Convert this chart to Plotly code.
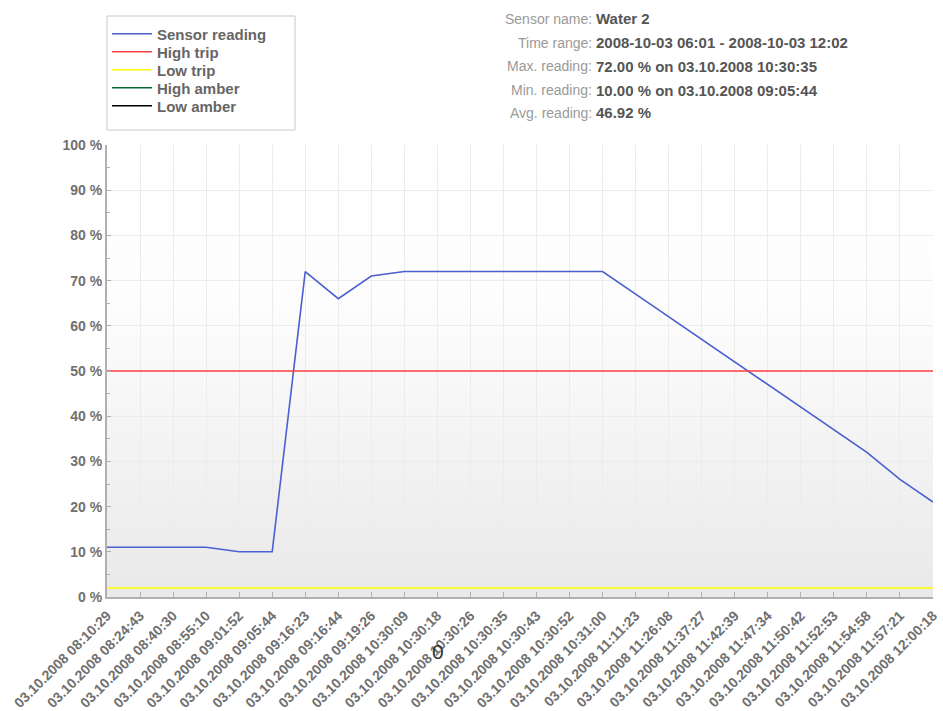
import base64
import plotly.graph_objects as go

# ---- data ----
time_labels = [
    "03.10.2008 08:10:29", "03.10.2008 08:24:43", "03.10.2008 08:40:30", "03.10.2008 08:55:10",
    "03.10.2008 09:01:52", "03.10.2008 09:05:44", "03.10.2008 09:16:23", "03.10.2008 09:16:44",
    "03.10.2008 09:19:26", "03.10.2008 10:30:09", "03.10.2008 10:30:18", "03.10.2008 10:30:26",
    "03.10.2008 10:30:35", "03.10.2008 10:30:43", "03.10.2008 10:30:52", "03.10.2008 10:31:00",
    "03.10.2008 11:11:23", "03.10.2008 11:26:08", "03.10.2008 11:37:27", "03.10.2008 11:42:39",
    "03.10.2008 11:47:34", "03.10.2008 11:50:42", "03.10.2008 11:52:53", "03.10.2008 11:54:58",
    "03.10.2008 11:57:21", "03.10.2008 12:00:18",
]
sensor_reading = [11, 11, 11, 11, 10, 10, 72, 66, 71, 72, 72, 72, 72, 72, 72, 72,
                  67, 62, 57, 52, 47, 42, 37, 32, 26, 21]
high_trip = 50
low_trip = 2

y_ticks = [0, 10, 20, 30, 40, 50, 60, 70, 80, 90, 100]
y_tick_text = [f"{v} %" for v in y_ticks]

info_labels = ["Sensor name:", "Time range:", "Max. reading:", "Min. reading:", "Avg. reading:"]
info_values = ["Water 2", "2008-10-03 06:01 - 2008-10-03 12:02",
               "72.00 % on 03.10.2008 10:30:35", "10.00 % on 03.10.2008 09:05:44", "46.92 %"]

series_names = ["Sensor reading", "High trip", "Low trip", "High amber", "Low amber"]
series_colors = ["#4a5fd0", "#ff4040", "#ffff00", "#006633", "#000000"]

# ---- layout helpers ----
W, H = 943, 711
ML, MR, MT, MB = 107, 10, 145, 114
PW, PH = W - ML - MR, H - MT - MB


def px(x):
    return (x - ML) / PW


def py(y):
    return (H - MB - y) / PH


FONT = "Liberation Sans, Arial, sans-serif"

fig = go.Figure()
series_y = [sensor_reading, [high_trip] * len(time_labels), [low_trip] * len(time_labels), None, None]
legend_ids = ["legend", "legend2", "legend3", "legend4", "legend5"]
for name, color, ys, lid in zip(series_names, series_colors, series_y, legend_ids):
    if ys is None:
        xs, ys = [None], [None]
    else:
        xs = time_labels
    fig.add_trace(go.Scatter(x=xs, y=ys, mode="lines", name=name, legend=lid,
                             line=dict(color=color, width=1.6)))

svg = ("<svg xmlns='http://www.w3.org/2000/svg' width='10' height='100' preserveAspectRatio='none'>"
       "<defs><linearGradient id='g' x1='0' y1='0' x2='0' y2='1'>"
       "<stop offset='0' stop-color='#ffffff'/><stop offset='0.35' stop-color='#fdfdfd'/>"
       "<stop offset='1' stop-color='#e9e9e9'/></linearGradient></defs>"
       "<rect width='10' height='100' fill='url(#g)'/></svg>")
bg_uri = "data:image/svg+xml;base64," + base64.b64encode(svg.encode()).decode()

annotations = []
row_y = [19, 43, 66, 90, 113]
for lab, val, yy in zip(info_labels, info_values, row_y):
    annotations.append(dict(x=px(594), y=py(yy), xref="paper", yref="paper", text=lab,
                            showarrow=False, xanchor="right", yanchor="middle",
                            font=dict(family=FONT, size=14, color="#9a9a9a")))
    annotations.append(dict(x=px(594), y=py(yy), xref="paper", yref="paper", text=val,
                            showarrow=False, xanchor="left", yanchor="middle",
                            font=dict(family=FONT, size=15, color="#555555", weight="bold")))
annotations.append(dict(x=px(438), y=py(651), xref="paper", yref="paper", text="0",
                        showarrow=False, xanchor="center", yanchor="middle",
                        font=dict(family=FONT, size=21, color="#333333")))

legend_rows = [35, 53, 71, 89, 107]
legend_layout = {}
for lid, ry in zip(legend_ids, legend_rows):
    legend_layout[lid] = dict(x=107 / W, y=1 - (ry - 1) / H, xref="container", yref="container",
                              xanchor="left", yanchor="middle", orientation="h",
                              bgcolor="rgba(0,0,0,0)", borderwidth=0,
                              font=dict(family=FONT, size=15, color="#666666", weight="bold"),
                              itemwidth=40)

fig.update_layout(
    width=W, height=H,
    margin=dict(l=ML, r=MR, t=MT, b=MB),
    paper_bgcolor="white",
    plot_bgcolor="rgba(0,0,0,0)",
    showlegend=True,
    images=[dict(source=bg_uri, xref="paper", yref="paper", x=0, y=1, sizex=1, sizey=1,
                 sizing="stretch", layer="below", xanchor="left", yanchor="top")],
    shapes=[dict(type="rect", xref="paper", yref="paper", x0=px(107), x1=px(295),
                 y0=py(130), y1=py(16), line=dict(color="#c8c8c8", width=1),
                 fillcolor="white", layer="below")],
    annotations=annotations,
    xaxis=dict(type="category", range=[0, len(time_labels) - 1], tickangle=-45,
               automargin=False, ticklabelstandoff=3,
               showgrid=True, gridcolor="#ececec", gridwidth=1,
               showline=True, linecolor="#b0b0b0", linewidth=2,
               ticks="inside", ticklen=5, tickcolor="#b0b0b0",
               tickfont=dict(family=FONT, size=14, color="#707070", weight="bold"),
               zeroline=False, fixedrange=True),
    yaxis=dict(range=[0, 100], tickmode="array", tickvals=y_ticks, ticktext=y_tick_text,
               automargin=False,
               showgrid=True, gridcolor="#ececec", gridwidth=1,
               showline=True, linecolor="#b0b0b0", linewidth=2,
               ticks="inside", ticklen=4, tickcolor="#b0b0b0",
               minor=dict(tickvals=list(range(5, 100, 10)), ticks="inside", ticklen=3,
                          tickcolor="#b0b0b0", showgrid=False),
               tickfont=dict(family=FONT, size=14, color="#707070", weight="bold"),
               zeroline=False, fixedrange=True),
    **legend_layout,
)

fig.write_html("out.html", config={"displayModeBar": False},
               post_script="document.body.style.margin='0';document.body.style.overflow='hidden';")
